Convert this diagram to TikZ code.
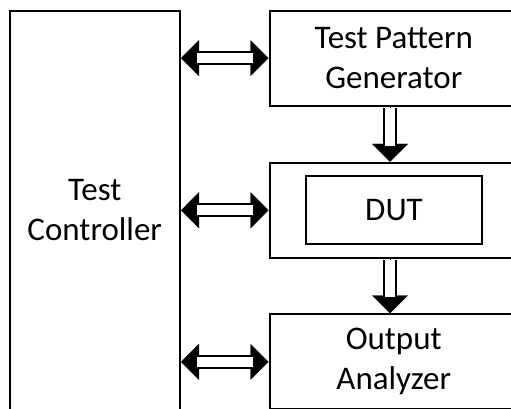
\documentclass[tikz,border=0pt]{standalone}
\usepackage{fontspec}
\setmainfont{Carlito}
\usetikzlibrary{arrows.meta}
\begin{document}
\begin{tikzpicture}[x=1pt,y=-1pt,
  box/.style={draw, line width=2pt, inner sep=0pt, align=center,
    font=\fontsize{33}{40}\selectfont},
  tip/.style={Triangle[length=18pt,width=36pt]},
  headsboth/.style={line width=0.4pt, {Triangle[length=18pt,width=36pt]}-{Triangle[length=18pt,width=36pt]}},
  headend/.style={line width=0.4pt, -{Triangle[length=18pt,width=36pt]}},
  shaftboth/.style={double=white, double distance=9.6pt, line width=2pt,
    shorten <=16pt, shorten >=16pt},
  shaftend/.style={double=white, double distance=10pt, line width=2pt,
    shorten <=1.2pt, shorten >=16pt}]
\useasboundingbox (0,0) rectangle (511,408);
\fill[white] (0,0) rectangle (511,408);

% blocks
\node[box, minimum width=170.5pt, minimum height=399pt] (tc) at (94.75,210.2) {Test\\Controller};
\node[box, minimum width=248.5pt, minimum height=94.8pt] (tpg) at (393.75,58.1) {Test Pattern\\Generator};
\node[box, minimum width=248.5pt, minimum height=95pt] (dutbox) at (393.75,210.25) {};
\node[box, minimum width=176.6pt, minimum height=68pt] (dut) at (394,210.3) {DUT};
\node[box, minimum width=248.5pt, minimum height=95pt] (oa) at (393.75,361.8) {Output\\Analyzer};

% bidirectional links from the controller
\foreach \n in {tpg,dutbox,oa}{
  \draw[headsboth] (tc.east |- \n.west) -- (\n.west);
  \draw[shaftboth] (tc.east |- \n.west) -- (\n.west);
}

% data flow down the chain
\draw[headend] ([xshift=-3.75pt]tpg.south) -- ([xshift=-3.75pt]dutbox.north);
\draw[shaftend] ([xshift=-3.75pt]tpg.south) -- ([xshift=-3.75pt]dutbox.north);
\draw[headend] ([xshift=-3.75pt]dutbox.south) -- ([xshift=-3.75pt]oa.north);
\draw[shaftend] ([xshift=-3.75pt]dutbox.south) -- ([xshift=-3.75pt]oa.north);
\end{tikzpicture}
\end{document}
